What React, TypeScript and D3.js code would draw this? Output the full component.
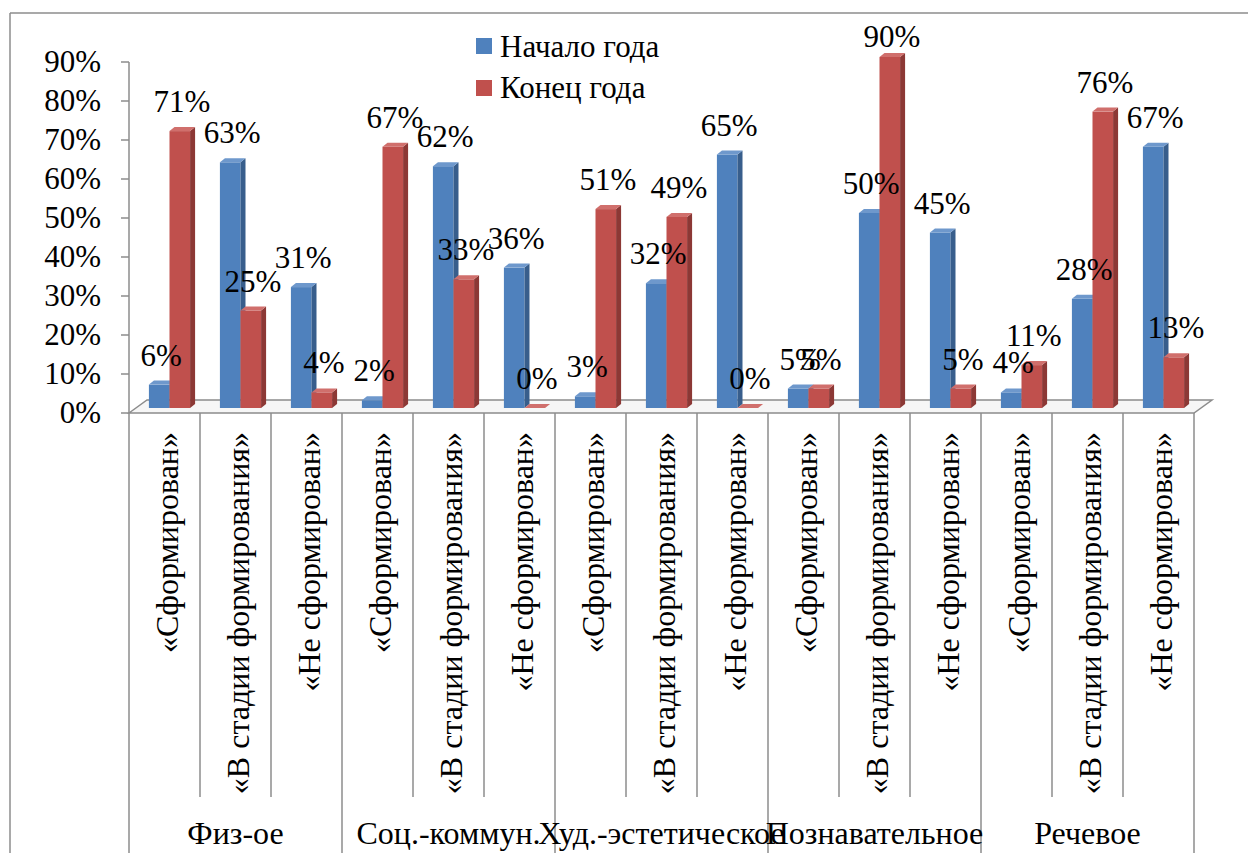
import React from "react";
import * as d3 from "d3";

const categories = [
  "«Сформирован»", "«В стадии формирования»", "«Не сформирован»",
  "«Сформирован»", "«В стадии формирования»", "«Не сформирован»",
  "«Сформирован»", "«В стадии формирования»", "«Не сформирован»",
  "«Сформирован»", "«В стадии формирования»", "«Не сформирован»",
  "«Сформирован»", "«В стадии формирования»", "«Не сформирован»",
];
const groups = ["Физ-ое", "Соц.-коммун.", "Худ.-эстетическое", "Познавательное", "Речевое"];
const startYear = [6, 63, 31, 2, 62, 36, 3, 32, 65, 5, 50, 45, 4, 28, 67];
const endYear = [71, 25, 4, 67, 33, 0, 51, 49, 0, 5, 90, 5, 11, 76, 13];
const yTicks = [0, 10, 20, 30, 40, 50, 60, 70, 80, 90];
const seriesNames = ["Начало года", "Конец года"];

const W = 1248, H = 853;
const FONT = "Liberation Serif";
const GRID = "#8c8c8c";

const colors = [
  { front: "#4F81BD", side: "#385E8C", top: "#6E98CC" },
  { front: "#C0504D", side: "#8C3835", top: "#D06F6C" },
];

export default function App() {
  const x0 = 129, x1 = 1194, yBase = 413, yTop = 62;
  const depthX = 18, depthY = 13;
  const y = d3.scaleLinear().domain([0, 90]).range([yBase, yTop]);
  const x = d3.scaleBand<number>().domain(d3.range(categories.length)).range([x0, x1]).padding(0);
  const bw = x.bandwidth();
  const barW = bw * 0.29;
  const off = 5;
  const lift = 5;
  const sx = 5, sy = 4;

  const series = [startYear, endYear];

  const bars: React.ReactNode[] = [];
  const labels: React.ReactNode[] = [];
  categories.forEach((_, i) => {
    const c = (x(i) as number) + bw / 2 + off;
    series.forEach((vals, s) => {
      const v = vals[i];
      const left = s === 0 ? c - barW : c;
      const right = left + barW;
      const top = y(v) - lift;
      const base = y(0) - lift;
      const col = colors[s];
      bars.push(
        <g key={`b${i}-${s}`}>
          <rect x={left} y={top} width={barW} height={base - top} fill={col.front} />
          <polygon
            points={`${right},${top} ${right + sx},${top - sy} ${right + sx},${base - sy} ${right},${base}`}
            fill={col.side}
          />
          <polygon
            points={`${left},${top} ${left + sx},${top - sy} ${right + sx},${top - sy} ${right},${top}`}
            fill={col.top}
          />
        </g>
      );
      const ly = Math.max(top - 19, 47);
      labels.push(
        <text key={`l${i}-${s}`} x={left + barW / 2 + 2} y={ly} textAnchor="middle" fontSize={31} fontFamily={FONT}>
          {v + "%"}
        </text>
      );
    });
  });

  const groupSize = 3;
  const boundaries = d3.range(categories.length + 1);

  return (
    <div style={{ position: "absolute", left: 0, top: 0, width: W, height: H, background: "#fff" }}>
      <svg width={W} height={H} fontFamily={FONT}>
        {/* outer frame */}
        <line x1={10} y1={13} x2={W} y2={13} stroke={GRID} strokeWidth={1.5} />
        <line x1={10} y1={13} x2={10} y2={H} stroke={GRID} strokeWidth={1.5} />

        {/* floor */}
        <polygon
          points={`${x0},${yBase} ${x0 + depthX},${yBase - depthY} ${x1 + depthX},${yBase - depthY} ${x1},${yBase}`}
          fill="#f6f6f6"
          stroke={GRID}
          strokeWidth={1.5}
        />

        {/* y axis */}
        <line x1={x0} y1={yTop} x2={x0} y2={yBase} stroke={GRID} strokeWidth={1.5} />
        {yTicks.map((t) => (
          <line key={`tk${t}`} x1={x0 - 8} y1={y(t)} x2={x0} y2={y(t)} stroke={GRID} strokeWidth={1.5} />
        ))}
        {yTicks.map((t) => (
          <text key={`t${t}`} x={101} y={y(t) + 10} textAnchor="end" fontSize={31} fontFamily={FONT}>
            {t + "%"}
          </text>
        ))}

        {/* category separators */}
        {boundaries.map((b) => {
          const bx = b < categories.length ? (x(b) as number) : x1;
          const isGroup = b % groupSize === 0;
          return (
            <line key={`s${b}`} x1={bx} y1={yBase} x2={bx} y2={isGroup ? H : 797} stroke={GRID} strokeWidth={1.5} />
          );
        })}

        {bars}
        {labels}

        {/* category labels */}
        {categories.map((c, i) => {
          const cx = (x(i) as number) + bw / 2 + 13;
          return (
            <text
              key={`c${i}`}
              transform={`translate(${cx},432) rotate(-90)`}
              textAnchor="end"
              fontSize={32}
              fontFamily={FONT}
            >
              {c}
            </text>
          );
        })}

        {/* group labels */}
        {groups.map((g, gi) => {
          const gx0 = x(gi * groupSize) as number;
          const gx1 = gi * groupSize + groupSize < categories.length ? (x(gi * groupSize + groupSize) as number) : x1;
          return (
            <text key={`g${gi}`} x={(gx0 + gx1) / 2} y={844} textAnchor="middle" fontSize={32} fontFamily={FONT}>
              {g}
            </text>
          );
        })}

        {/* legend */}
        {seriesNames.map((n, i) => (
          <rect key={`lr${i}`} x={476} y={38 + i * 42} width={16} height={16} fill={colors[i].front} />
        ))}
        {seriesNames.map((n, i) => (
          <text key={`lt${i}`} x={500} y={57 + i * 41} fontSize={31} fontFamily={FONT}>
            {n}
          </text>
        ))}
      </svg>
    </div>
  );
}
